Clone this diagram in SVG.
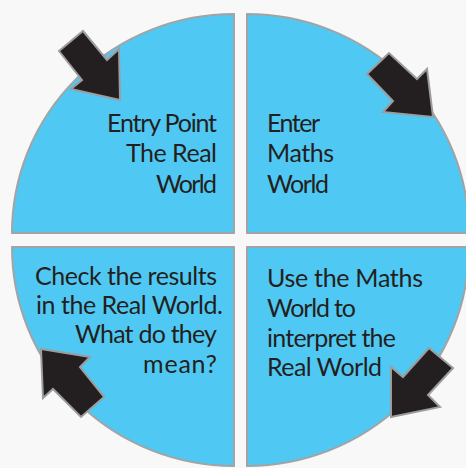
<svg xmlns="http://www.w3.org/2000/svg" width="466" height="468" viewBox="0 0 466 468">
<style>
.q{fill:#4fc9f3;stroke:#a3a3a3;stroke-width:2;stroke-linejoin:round}
.ar{fill:#231f20;stroke:#9c9c9c;stroke-width:2;stroke-linejoin:miter}
.t{font-family:Lato,"Open Sans","Liberation Sans",sans-serif;font-size:25px;fill:#231f20}
.r{text-anchor:end}
</style>
<rect width="466" height="468" fill="#f8f8f8"/>
<g id="q-entry">
<path class="q" d="M234,233 L234,14 A222,219 0 0 0 12,233 Z"/>
<text class="t r" lengthAdjust="spacingAndGlyphs"><tspan x="217" y="132" textLength="110">Entry Point</tspan><tspan x="217" y="162" textLength="91">The Real</tspan><tspan x="217" y="193" textLength="61">World</tspan></text>
</g>
<g id="q-maths">
<path class="q" d="M247,233 L247,14 A222,219 0 0 1 469,233 Z"/>
<text class="t" lengthAdjust="spacingAndGlyphs"><tspan x="267" y="132" textLength="53">Enter</tspan><tspan x="267" y="162" textLength="67">Maths</tspan><tspan x="267" y="193" textLength="62">World</tspan></text>
</g>
<g id="q-interpret">
<path class="q" d="M247,247 L469,247 A222,219 0 0 1 247,466 Z"/>
<text class="t" lengthAdjust="spacingAndGlyphs"><tspan x="267" y="287" textLength="156">Use the Maths</tspan><tspan x="267" y="317" textLength="89">World to</tspan><tspan x="267" y="347" textLength="129">interpret the</tspan><tspan x="267" y="376" textLength="115">Real World</tspan></text>
</g>
<g id="q-check">
<path class="q" d="M234,247 L12,247 A222,219 0 0 0 234,466 Z"/>
<text class="t r" lengthAdjust="spacingAndGlyphs"><tspan x="217" y="285" textLength="182">Check the results</tspan><tspan x="223" y="314" textLength="187">in the Real World.</tspan><tspan x="217" y="343" textLength="142">What do they</tspan><tspan x="217" y="373" textLength="74">mean?</tspan></text>
</g>
<g id="connectors">
<polygon class="ar" points="59,51 83,31 107,60 119,49 120,100 71,89 82,80"/>
<polygon class="ar" points="367,74 389,53 417,79 427,69 433,117 383,112 393,101"/>
<polygon class="ar" points="391,417 391,367 403,377 429,348 453,368 428,395 440,407"/>
<polygon class="ar" points="41,349 90,357 80,367 104,397 81,417 53,389 43,398"/>
</g>
</svg>
